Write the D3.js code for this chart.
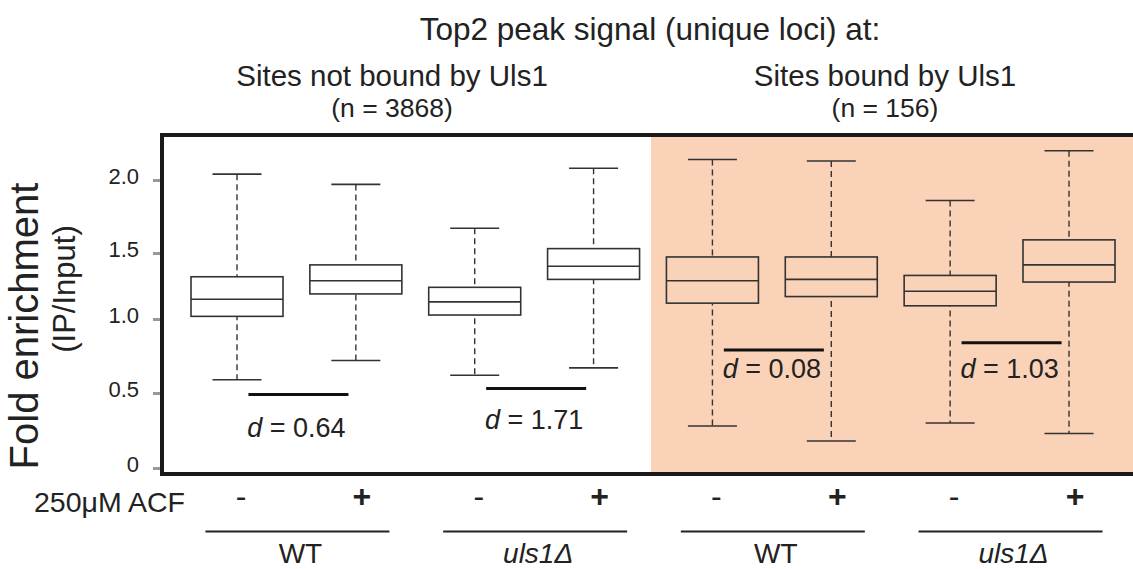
<!DOCTYPE html>
<html>
<head>
<meta charset="utf-8">
<script src="https://cdn.jsdelivr.net/npm/d3@7"></script>
<style>
  body { margin: 0; background: #fff; }
  text { font-family: "Liberation Sans", Arial, sans-serif; fill: #222; }
</style>
</head>
<body>
<div id="chart"></div>
<script>
// Width and height of SVG
const w = 1133;
const h = 569;

// One entry per box, left to right
const sites = ["not bound", "not bound", "not bound", "not bound", "bound", "bound", "bound", "bound"];
const strains = ["WT", "WT", "uls1Δ", "uls1Δ", "WT", "WT", "uls1Δ", "uls1Δ"];
const treatment = ["-", "+", "-", "+", "-", "+", "-", "+"];
// Box plot statistics
const whiskerLow = [0.59, 0.72, 0.62, 0.67, 0.28, 0.18, 0.30, 0.23];
const q1 = [1.02, 1.19, 1.03, 1.30, 1.12, 1.17, 1.10, 1.28];
const median = [1.15, 1.29, 1.13, 1.40, 1.29, 1.30, 1.21, 1.41];
const q3 = [1.32, 1.41, 1.24, 1.53, 1.47, 1.47, 1.33, 1.59];
const whiskerHigh = [2.04, 1.97, 1.67, 2.08, 2.14, 2.13, 1.86, 2.20];

// Cohen's d between the - and + box of every pair
const effectD = ["0.64", "1.71", "0.08", "1.03"];
const effectLineY = [0.49, 0.53, 0.79, 0.84];
const effectLabelY = [0.21, 0.26, 0.60, 0.60];

// Site groups across the top
const siteTitles = ["Sites not bound by Uls1", "Sites bound by Uls1"];
const siteCounts = ["(n = 3868)", "(n = 156)"];

// Y axis ticks
const yTicks = [0, 0.5, 1, 1.5, 2];
const yTickLabels = ["0", "0.5", "1.0", "1.5", "2.0"];

// Plot frame
const frameLeft = 162;
const frameTop = 135;
const frameBottom = 474;
const boxWidth = 92;
const capWidth = 49;

const svg = d3.select("#chart")
  .append("svg")
  .attr("width", w)
  .attr("height", h);

// x position of each box
const xScale = d3.scalePoint()
  .domain(d3.range(sites.length))
  .range([237, 1069]);

// the drawn axis is not perfectly even, so the scale follows its ticks
const yScale = d3.scaleLinear()
  .domain(yTicks)
  .range([468, 393, 319, 253, 180]);

// shaded panel for sites bound by Uls1
const shadeX = (xScale(3) + xScale(4)) / 2 - 2;
svg.append("rect")
  .attr("x", shadeX)
  .attr("y", frameTop)
  .attr("width", w - shadeX)
  .attr("height", frameBottom - frameTop)
  .attr("fill", "#fad2b8");

// y axis: short grey ticks and labels
const yAxis = svg.append("g")
  .attr("transform", `translate(${frameLeft - 2}, 0)`)
  .call(d3.axisLeft(yScale)
    .tickValues(yTicks)
    .tickFormat((d, i) => yTickLabels[i])
    .tickSize(7)
    .tickPadding(14));
yAxis.select(".domain").remove();
yAxis.selectAll(".tick line")
  .attr("stroke", "#999")
  .attr("stroke-width", 3);
yAxis.selectAll(".tick text")
  .attr("font-size", 22)
  .attr("fill", "#222")
  .attr("dy", "0.15em");

// Whiskers (dashed) and caps
const boxes = svg.append("g")
  .selectAll("g")
  .data(d3.range(sites.length))
  .join("g");

boxes.append("line")
  .attr("x1", i => xScale(i))
  .attr("x2", i => xScale(i))
  .attr("y1", i => yScale(whiskerHigh[i]))
  .attr("y2", i => yScale(whiskerLow[i]))
  .attr("stroke", "#333")
  .attr("stroke-width", 1.4)
  .attr("stroke-dasharray", "6,4");

boxes.selectAll(".cap")
  .data(i => [whiskerLow[i], whiskerHigh[i]].map(v => ({ i, v })))
  .join("line")
  .attr("class", "cap")
  .attr("x1", d => xScale(d.i) - capWidth / 2)
  .attr("x2", d => xScale(d.i) + capWidth / 2)
  .attr("y1", d => yScale(d.v))
  .attr("y2", d => yScale(d.v))
  .attr("stroke", "#333")
  .attr("stroke-width", 1.6);

// Box from q1 to q3, filled so the dashes stop at the box
boxes.append("rect")
  .attr("x", i => xScale(i) - boxWidth / 2)
  .attr("y", i => yScale(q3[i]))
  .attr("width", boxWidth)
  .attr("height", i => yScale(q1[i]) - yScale(q3[i]))
  .attr("fill", i => sites[i] === "bound" ? "#fad2b8" : "#fff")
  .attr("stroke", "#333")
  .attr("stroke-width", 1.6);

boxes.append("line")
  .attr("x1", i => xScale(i) - boxWidth / 2)
  .attr("x2", i => xScale(i) + boxWidth / 2)
  .attr("y1", i => yScale(median[i]))
  .attr("y2", i => yScale(median[i]))
  .attr("stroke", "#333")
  .attr("stroke-width", 1.6);

// Effect size bars and labels, one per pair
const pairMid = k => (xScale(2 * k) + xScale(2 * k + 1)) / 2;

svg.append("g")
  .selectAll("line")
  .data(effectD)
  .join("line")
  .attr("x1", (d, k) => pairMid(k) - 48)
  .attr("x2", (d, k) => pairMid(k) + 52)
  .attr("y1", (d, k) => yScale(effectLineY[k]))
  .attr("y2", (d, k) => yScale(effectLineY[k]))
  .attr("stroke", "#111")
  .attr("stroke-width", 3);

const dLabels = svg.append("g")
  .selectAll("text")
  .data(effectD)
  .join("text")
  .attr("x", (d, k) => pairMid(k))
  .attr("y", (d, k) => yScale(effectLabelY[k]))
  .attr("text-anchor", "middle")
  .attr("font-size", 27);
dLabels.append("tspan").attr("font-style", "italic").text("d");
dLabels.append("tspan").text(d => " = " + d);

// Frame drawn last so it sits over the shading
svg.append("path")
  .attr("d", `M${w + 5},${frameTop}H${frameLeft}V${frameBottom}H${w + 5}`)
  .attr("fill", "none")
  .attr("stroke", "#1a1a1a")
  .attr("stroke-width", 4);

// Titles above the plot
svg.append("text")
  .attr("x", 650)
  .attr("y", 40)
  .attr("text-anchor", "middle")
  .attr("font-size", 31.5)
  .text("Top2 peak signal (unique loci) at:");

const titleX = [392, 885];
siteTitles.forEach((t, g) => {
  svg.append("text")
    .attr("x", titleX[g])
    .attr("y", 86)
    .attr("text-anchor", "middle")
    .attr("font-size", 29.5)
    .text(t);
  svg.append("text")
    .attr("x", titleX[g])
    .attr("y", 117)
    .attr("text-anchor", "middle")
    .attr("font-size", 26.5)
    .text(siteCounts[g]);
});

// Y axis title
svg.append("text")
  .attr("transform", "translate(38, 326) rotate(-90)")
  .attr("text-anchor", "middle")
  .attr("font-size", 40)
  .text("Fold enrichment");
svg.append("text")
  .attr("transform", "translate(75, 289) rotate(-90)")
  .attr("text-anchor", "middle")
  .attr("font-size", 31)
  .text("(IP/Input)");

// Treatment row
svg.append("text")
  .attr("x", 185)
  .attr("y", 512)
  .attr("text-anchor", "end")
  .attr("font-size", 28.5)
  .text("250μM ACF");

svg.append("g")
  .selectAll("text")
  .data(treatment)
  .join("text")
  .attr("x", (d, i) => xScale(i) + (d === "-" ? 4 : 6))
  .attr("y", 507)
  .attr("text-anchor", "middle")
  .attr("font-size", 32)
  .attr("font-weight", d => d === "+" ? "bold" : "normal")
  .text(d => d);

// Strain row: a line over each pair and the strain name
const pairs = d3.range(sites.length / 2);
svg.append("g")
  .selectAll("line")
  .data(pairs)
  .join("line")
  .attr("x1", k => pairMid(k) - 91)
  .attr("x2", k => pairMid(k) + 93)
  .attr("y1", 531.5)
  .attr("y2", 531.5)
  .attr("stroke", "#222")
  .attr("stroke-width", 2.2);

svg.append("g")
  .selectAll("text")
  .data(pairs)
  .join("text")
  .attr("x", k => pairMid(k) + 4)
  .attr("y", 563)
  .attr("text-anchor", "middle")
  .attr("font-size", 28)
  .attr("font-style", k => strains[2 * k] === "WT" ? "normal" : "italic")
  .text(k => strains[2 * k]);
</script>
</body>
</html>
